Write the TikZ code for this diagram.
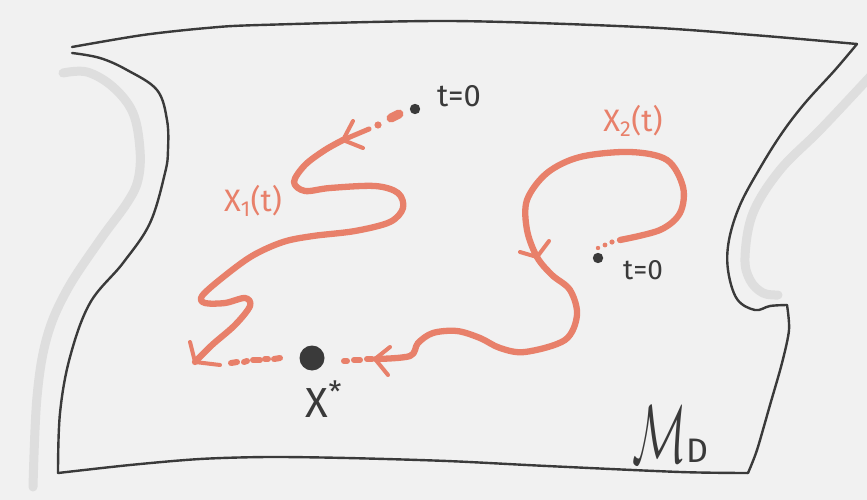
\RequirePackage{fix-cm}
\documentclass[tikz,border=0pt]{standalone}
\usepackage{fontspec}
\setmainfont{Fira Sans}
\usepackage{graphicx}
\definecolor{bgc}{HTML}{F1F1F1}
\definecolor{ink}{HTML}{3A3A3A}
\definecolor{orng}{HTML}{E8806A}
\definecolor{shade}{HTML}{DEDEDE}
\tikzset{
  sheet/.style={draw=ink, line width=2.4, line cap=round, line join=round},
  halo/.style={draw=shade, line width=9, line cap=round, line join=round},
  trail/.style={draw=orng, line width=6.3, line cap=round, line join=round},
  chev/.style={draw=orng, line width=4, line cap=round, line join=round},
  dotline/.style={draw=orng, line cap=round},
  lbl/.style={inner sep=0pt, outer sep=0pt},
}
\begin{document}
\begin{tikzpicture}[x=1pt,y=-1pt]
\fill[bgc] (0,0) rectangle (867,500);
\useasboundingbox (0,0) rectangle (867,500);

% grey shadow strokes
\draw[halo] plot[smooth, tension=0.6] coordinates {(63,73) (87,72) (113,87) (133,113) (140,150) (138,180) (127,203) (100,240) (67,290) (47,337) (37,397) (33,487)};
\draw[halo] plot[smooth, tension=0.6] coordinates {(880,66) (867,80) (820,130) (780,170) (753,213) (745,257) (750,280) (763,293) (778,295)};

% sheet outline
\draw[sheet] plot[smooth, tension=0.6] coordinates {(72,53) (100,58) (127,70) (157,90) (167,120) (168,150) (165,173) (150,223) (123,263) (90,303) (70,357) (60,413) (58,473)};
\draw[sheet] plot[smooth, tension=0.5] coordinates {(58,473) (130,465) (200,459) (268,457) (347,458) (447,461) (547,466) (680,472) (748,473)};
\draw[sheet] plot[smooth, tension=0.5] coordinates {(748,473) (757,450) (770,405) (782,363) (789,330) (787,305)};
\draw[sheet] plot[smooth, tension=0.6] coordinates {(787,305) (770,306) (755,310) (737,299) (728,270) (729,240) (740,205) (760,168) (782,133) (805,103) (835,70) (857,44)};
\draw[sheet] plot[smooth, tension=0.5] coordinates {(857,44) (753,35) (640,27) (450,21) (260,25) (207,28) (143,35) (72,47)};

% points
\fill[ink] (415,109) circle (5.2) coordinate (s1);
\fill[ink] (598,258) circle (5.2) coordinate (s2);
\node[circle, fill=ink, minimum size=25pt, inner sep=0pt] (xs) at (312,358) {};

% trajectory X1
\draw[dotline, line width=9] (391,118) -- (399,114);
\fill[orng] (378,125) circle (3.6);
\draw[trail, line width=5] (343,140) -- (369,129);
\draw[chev] (353,121) -- (343,140) -- (363,148);
\draw[trail] plot[smooth, tension=0.55] coordinates {(343,140) (325,150) (305,165) (294,182) (305,191) (330,188) (375,186) (398,193) (403,208) (390,222) (355,231) (313,236) (283,242) (252,256) (222,278) (202,296) (205,303) (225,303) (245,298) (250,306) (235,325) (212,345) (195,362)};
\draw[chev] (190,342) -- (195,362) -- (220,365);
\draw[dotline, line width=6] (231,363) -- (237,362);
\draw[dotline, line width=6] (244,362) -- (247,361);
\draw[dotline, line width=6] (253,360) -- (260,360);
\draw[dotline, line width=6] (265,359) -- (268,359);
\draw[dotline, line width=6] (274,359) -- (280,358);

% trajectory X2
\fill[orng] (598,248) circle (2.2);
\fill[orng] (605,245) circle (2.4);
\fill[orng] (612,242) circle (2.6);
\draw[trail] plot[smooth, tension=0.55] coordinates {(620,240) (660,230) (680,213) (683,187) (667,160) (630,152) (580,157) (547,173) (527,200) (527,230) (537,257) (552,275) (570,290) (577,315) (565,340) (525,352) (500,348) (480,338) (457,331) (433,333) (418,343) (410,356) (376,359)};
\draw[chev] (520,252) -- (537,257) -- (549,241);
\draw[chev] (390,347) -- (375,359) -- (388,375);
\draw[dotline, line width=6] (367,359) -- (372,359);
\draw[dotline, line width=6] (354,360) -- (360,360);
\draw[dotline, line width=6] (344,361) -- (347,361);

% labels
\node[lbl, text=ink, font=\fontsize{31}{33}\selectfont] (l1) at (459,96) {t=0};
\node[lbl, text=ink, font=\fontsize{28}{30}\selectfont] (l2) at (643,270) {t=0};
\node[lbl, text=orng, font=\fontsize{31}{33}\selectfont] (x1) at (253,201) {X\textsubscript{1}(t)};
\node[lbl, text=orng, font=\fontsize{31}{33}\selectfont] (x2) at (633,121) {X\textsubscript{2}(t)};
\node[lbl, text=ink, font=\fontsize{42}{44}\selectfont] (xl) at (324,399) {X\textsuperscript{*}};
\node[lbl, text=ink, anchor=south west] (md) at (632,462) {\scalebox{0.55}[1]{\fontsize{82}{82}\selectfont$\mathcal{M}$}\fontsize{34}{34}\selectfont D};
\end{tikzpicture}
\end{document}
